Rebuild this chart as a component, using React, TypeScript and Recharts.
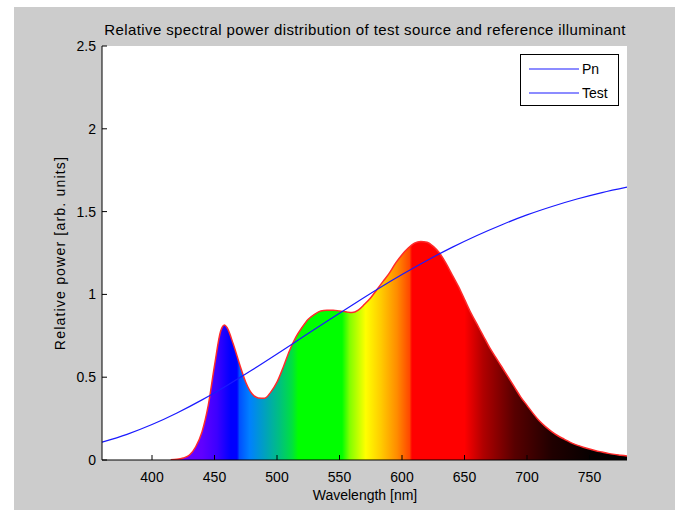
import React from 'react';
import {
  ComposedChart,
  Area,
  Line,
  XAxis,
  YAxis,
  CartesianGrid,
} from 'recharts';

// ---- data ----
const testWavelengths = [
  415, 420, 425, 430, 435, 440, 445, 450, 455, 458, 460, 465, 470, 475, 480, 485, 490,
  495, 500, 505, 510, 515, 520, 525, 530, 535, 540, 545, 550, 555, 560, 565, 570,
  575, 580, 585, 590, 595, 600, 605, 610, 615, 620, 625, 630, 635, 640, 645, 650,
  655, 660, 665, 670, 675, 680, 685, 690, 695, 700, 705, 710, 715, 720, 725, 730,
  735, 740, 745, 750, 755, 760, 765, 770, 775, 780,
];
const testPower = [
  0.002, 0.004, 0.012, 0.03, 0.08, 0.17, 0.33, 0.57, 0.78, 0.815, 0.8, 0.7, 0.58, 0.47, 0.4, 0.375, 0.373,
  0.41, 0.47, 0.56, 0.66, 0.74, 0.8, 0.85, 0.88, 0.9, 0.905, 0.905, 0.9, 0.895, 0.89, 0.905, 0.94,
  0.98, 1.03, 1.08, 1.13, 1.19, 1.24, 1.28, 1.31, 1.32, 1.315, 1.29, 1.25, 1.19, 1.12, 1.05, 0.97,
  0.89, 0.82, 0.75, 0.68, 0.62, 0.56, 0.5, 0.44, 0.38, 0.33, 0.28, 0.235, 0.2, 0.17, 0.145, 0.125,
  0.105, 0.09, 0.077, 0.066, 0.056, 0.048, 0.04, 0.034, 0.029, 0.024,
];

const pnWavelengths = [
  360, 380, 400, 420, 440, 460, 480, 500, 520, 540, 560, 580, 600, 620, 640, 660,
  680, 700, 720, 740, 760, 780,
];
const pnPower = [
  0.108, 0.155, 0.214, 0.284, 0.363, 0.45, 0.543, 0.64, 0.739, 0.838, 0.935, 1.03,
  1.12, 1.205, 1.284, 1.356, 1.421, 1.48, 1.531, 1.576, 1.615, 1.648,
];

const xTicks = [400, 450, 500, 550, 600, 650, 700, 750];
const yTicks = [0, 0.5, 1, 1.5, 2, 2.5];
const legendLabels = ['Pn', 'Test'];

// spectrum colour stops (wavelength, colour)
const spectrumStops: [number, string][] = [
  [415, '#7400ff'],
  [440, '#6000ff'],
  [452, '#3c00ff'],
  [460, '#1000ff'],
  [463, '#0000ff'],
  [468, '#0000ff'],
  [470, '#0050ff'],
  [478, '#0080ff'],
  [490, '#00a0c0'],
  [502, '#00c080'],
  [512, '#00e040'],
  [517, '#00ff00'],
  [552, '#00ff00'],
  [558, '#80ff00'],
  [571, '#ffff00'],
  [583, '#ffcc00'],
  [596, '#ff8c00'],
  [606, '#ff4800'],
  [608, '#ff0000'],
  [650, '#ff0000'],
  [665, '#b00000'],
  [690, '#580000'],
  [720, '#200000'],
  [750, '#080000'],
  [780, '#000000'],
];

// merged table
const allWl = Array.from(new Set([...testWavelengths, ...pnWavelengths])).sort((a, b) => a - b);
const tableData = allWl.map((wl) => {
  const ti = testWavelengths.indexOf(wl);
  const pi = pnWavelengths.indexOf(wl);
  return {
    wl,
    test: ti >= 0 ? testPower[ti] : null,
    pn: pi >= 0 ? pnPower[pi] : null,
  };
});

const FONT = '"Liberation Sans", Arial, Helvetica, sans-serif';
const W = 661;
const H = 503;

const wlMin = testWavelengths[0];
const wlMax = testWavelengths[testWavelengths.length - 1];

export default function App() {
  return (
    <div
      style={{
        position: 'absolute',
        left: 14,
        top: 7,
        width: W,
        height: H,
        background: '#cccccc',
        fontFamily: FONT,
      }}
    >
      <ComposedChart
        width={W}
        height={H}
        data={tableData}
        margin={{ top: 39, right: 48, bottom: 20, left: 28 }}
      >
        <defs>
          <linearGradient id="spec" x1="0" y1="0" x2="1" y2="0">
            {spectrumStops.map(([wl, c]) => (
              <stop key={wl} offset={(wl - wlMin) / (wlMax - wlMin)} stopColor={c} />
            ))}
          </linearGradient>
        </defs>
        <CartesianGrid fill="#ffffff" horizontal={false} vertical={false} />
        <XAxis
          dataKey="wl"
          type="number"
          domain={[360, 780]}
          ticks={xTicks}
          allowDataOverflow
          height={30}
          tickSize={-5}
          tickMargin={17}
          axisLine={{ stroke: '#000' }}
          tickLine={{ stroke: '#000' }}
          tick={{ fill: '#000', fontSize: 14, fontFamily: FONT }}
        />
        <XAxis
          xAxisId="top"
          orientation="top"
          dataKey="wl"
          type="number"
          domain={[360, 780]}
          ticks={xTicks}
          allowDataOverflow
          height={0}
          tickSize={-5}
          axisLine={{ stroke: '#000' }}
          tickLine={{ stroke: '#000' }}
          tick={false}
        />
        <YAxis
          type="number"
          domain={[0, 2.5]}
          ticks={yTicks}
          allowDataOverflow
          width={60}
          tickSize={-5}
          tickMargin={11}
          axisLine={{ stroke: '#000' }}
          tickLine={{ stroke: '#000' }}
          tick={{ fill: '#000', fontSize: 14, fontFamily: FONT }}
        />
        <YAxis
          yAxisId="right"
          orientation="right"
          type="number"
          domain={[0, 2.5]}
          ticks={yTicks}
          allowDataOverflow
          width={0}
          tickSize={-5}
          axisLine={{ stroke: '#000' }}
          tickLine={{ stroke: '#000' }}
          tick={false}
        />
        <Area
          name="Test"
          dataKey="test"
          type="monotone"
          stroke="#ff2a2a"
          strokeWidth={1.5}
          fill="url(#spec)"
          fillOpacity={1}
          baseValue={0}
          dot={false}
          activeDot={false}
          isAnimationActive={false}
        />
        <Line
          name="Pn"
          dataKey="pn"
          type="monotone"
          stroke="#1a1aff"
          strokeWidth={1.2}
          dot={false}
          activeDot={false}
          connectNulls
          isAnimationActive={false}
        />
      </ComposedChart>

      {/* title */}
      <div
        style={{
          position: 'absolute',
          left: 0,
          width: 702,
          top: 15,
          height: 16,
          lineHeight: '16px',
          textAlign: 'center',
          fontSize: 15,
          letterSpacing: 0.4,
          color: '#000',
          whiteSpace: 'nowrap',
        }}
      >
        Relative spectral power distribution of test source and reference illuminant
      </div>

      {/* x label */}
      <div
        style={{
          position: 'absolute',
          left: 0,
          width: 702,
          top: 480,
          height: 16,
          lineHeight: '16px',
          textAlign: 'center',
          fontSize: 14,
          color: '#000',
          whiteSpace: 'nowrap',
        }}
      >
        Wavelength [nm]
      </div>

      {/* y label */}
      <div
        style={{
          position: 'absolute',
          left: 46 - 150,
          width: 300,
          top: 237.5,
          height: 16,
          lineHeight: '16px',
          textAlign: 'center',
          fontSize: 14,
          letterSpacing: 1.2,
          color: '#000',
          whiteSpace: 'nowrap',
          transform: 'rotate(-90deg)',
        }}
      >
        Relative power [arb. units]
      </div>

      {/* legend */}
      <div
        style={{
          position: 'absolute',
          left: 506,
          top: 47,
          width: 99,
          height: 52,
          boxSizing: 'border-box',
          border: '1px solid #000',
          background: '#fff',
        }}
      >
        {legendLabels.map((lab, i) => (
          <div
            key={lab}
            style={{
              position: 'absolute',
              left: 8,
              top: 6 + i * 24,
              height: 16,
              display: 'flex',
              alignItems: 'center',
              fontSize: 14,
              lineHeight: '16px',
              color: '#000',
            }}
          >
            <svg width={50} height={16} style={{ display: 'block' }}>
              <line x1={0} y1={8} x2={50} y2={8} stroke="#1a1aff" strokeWidth={1.2} />
            </svg>
            <span style={{ marginLeft: 3 }}>{lab}</span>
          </div>
        ))}
      </div>
    </div>
  );
}
